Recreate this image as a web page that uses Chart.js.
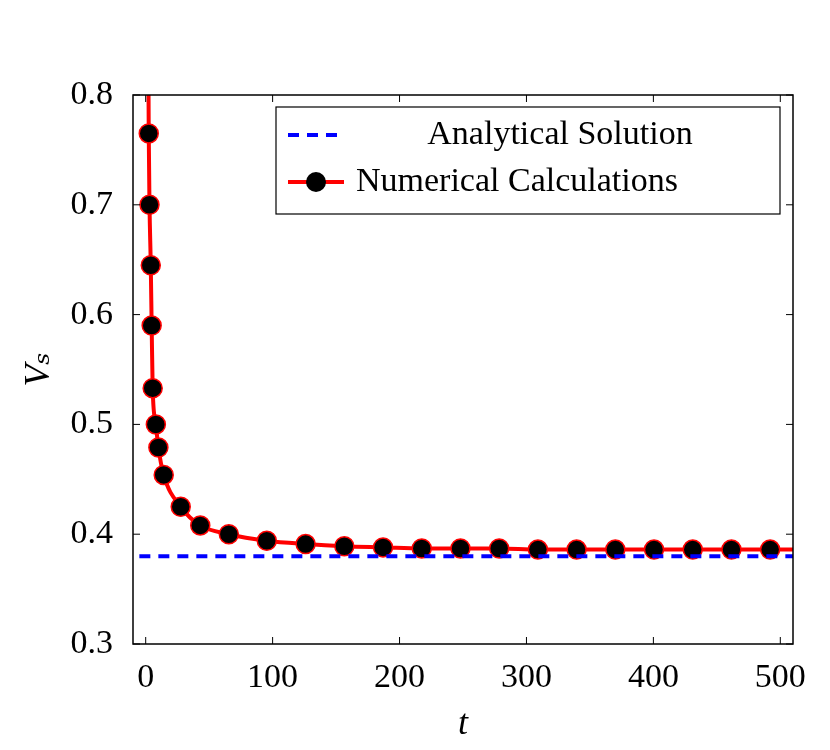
<!DOCTYPE html><html><head><script src="https://cdn.jsdelivr.net/npm/chart.js@4"></script>
<style>body{margin:0;background:#fff}#w{width:830px;height:750px}</style></head><body><div id="w"><canvas id="c"></canvas></div>
<script>
const numT=[2,2.4,3,4,4.7,5.5,8,10,14.2,27.6,43,65.5,95.4,126,156.5,187,217.5,248,278.5,309,339.5,370,400.5,431,461.5,492,510];
const numV=[0.86,0.765,0.70,0.645,0.59,0.533,0.50,0.479,0.454,0.425,0.408,0.400,0.394,0.391,0.389,0.388,0.387,0.387,0.387,0.386,0.386,0.386,0.386,0.386,0.386,0.386,0.386];
const markerShown=[0,1,1,1,1,1,1,1,1,1,1,1,1,1,1,1,1,1,1,1,1,1,1,1,1,1,0];
const anaT=[-5,510];
const anaV=[0.38,0.38];
const xTicks=[0,100,200,300,400,500];
const yTicks=[0.3,0.4,0.5,0.6,0.7,0.8];
const F='"Liberation Serif","DejaVu Serif",serif';
const frame={id:'frame',afterDraw(ch){const{ctx,chartArea:a,scales:{x,y}}=ch;ctx.save();ctx.strokeStyle='#000';ctx.lineWidth=1.5;ctx.strokeRect(a.left,a.top,a.right-a.left,a.bottom-a.top);ctx.lineWidth=1;
xTicks.forEach(t=>{const p=x.getPixelForValue(t);ctx.beginPath();ctx.moveTo(p,a.bottom);ctx.lineTo(p,a.bottom-7);ctx.moveTo(p,a.top);ctx.lineTo(p,a.top+7);ctx.stroke();});
yTicks.forEach(t=>{const p=y.getPixelForValue(t);ctx.beginPath();ctx.moveTo(a.left,p);ctx.lineTo(a.left+7,p);ctx.moveTo(a.right,p);ctx.lineTo(a.right-7,p);ctx.stroke();});
const L=276,T=107,W=504,H=107;ctx.fillStyle='#fff';ctx.fillRect(L,T,W,H);ctx.strokeStyle='#000';ctx.lineWidth=1.2;ctx.strokeRect(L,T,W,H);
ctx.strokeStyle='#0000ff';ctx.lineWidth=4;ctx.setLineDash([11,8]);ctx.beginPath();ctx.moveTo(288,135);ctx.lineTo(344,135);ctx.stroke();ctx.setLineDash([]);
ctx.strokeStyle='#ff0000';ctx.lineWidth=4;ctx.beginPath();ctx.moveTo(288,182);ctx.lineTo(344,182);ctx.stroke();
ctx.fillStyle='#000';ctx.beginPath();ctx.arc(316,182,10,0,Math.PI*2);ctx.fill();
ctx.font='34px '+F;ctx.textBaseline='middle';ctx.textAlign='center';ctx.fillText('Analytical Solution',560,135);ctx.textAlign='left';ctx.fillText('Numerical Calculations',356,182);
ctx.restore();}};
new Chart(document.getElementById('c'),{type:'scatter',data:{datasets:[
{data:anaT.map((t,i)=>({x:t,y:anaV[i]})),showLine:true,borderColor:'#0000ff',borderWidth:4,borderDash:[11,8],pointRadius:0},
{data:numT.map((t,i)=>({x:t,y:numV[i]})),showLine:true,borderColor:'#ff0000',borderWidth:4,cubicInterpolationMode:'monotone',pointRadius:markerShown.map(m=>m?9.5:0),pointBackgroundColor:'#000',pointBorderColor:'#ff0000',pointBorderWidth:1.5}
]},options:{responsive:true,maintainAspectRatio:false,animation:false,layout:{padding:{top:95,right:37,left:14,bottom:0}},
plugins:{legend:{display:false},tooltip:{enabled:false}},
scales:{x:{type:'linear',min:-10,max:510,afterBuildTicks:s=>{s.ticks=xTicks.map(v=>({value:v}))},afterFit:s=>{s.height=106},
grid:{display:false},border:{display:false},ticks:{color:'#000',font:{family:F,size:34},padding:6,maxRotation:0},
title:{display:true,text:'t',color:'#000',font:{family:F,size:36,style:'italic'},padding:{top:-14}}},
y:{min:0.3,max:0.8,afterBuildTicks:s=>{s.ticks=yTicks.map(v=>({value:v}))},afterFit:s=>{s.width=119},
grid:{display:false},border:{display:false},ticks:{color:'#000',font:{family:F,size:34},padding:12,callback:v=>v.toFixed(1)},
title:{display:true,text:'Vₛ',color:'#000',font:{family:F,size:36,style:'italic'},padding:{bottom:0}}}}},plugins:[frame]});
</script></body></html>
